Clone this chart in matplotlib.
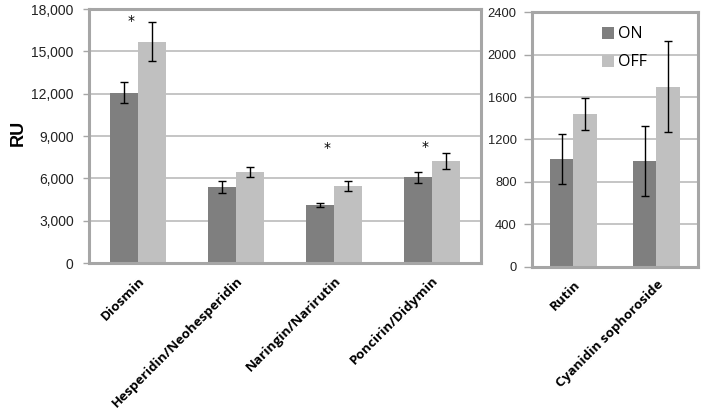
import matplotlib
matplotlib.use("Agg")
import matplotlib.pyplot as plt
import numpy as np

# Data
left_cats = ["Diosmin", "Hesperidin/Neohesperidin", "Naringin/Narirutin", "Poncirin/Didymin"]
left_on = [12070, 5390, 4090, 6070]
left_on_err = [760, 440, 150, 390]
left_off = [15690, 6450, 5460, 7260]
left_off_err = [1400, 350, 330, 570]
left_stars = [True, False, True, True]
left_star_y = [17150, None, 8150, 8220]
left_ticks = [0, 3000, 6000, 9000, 12000, 15000, 18000]

right_cats = ["Rutin", "Cyanidin sophoroside"]
right_on = [1015, 996]
right_on_err = [233, 330]
right_off = [1438, 1698]
right_off_err = [150, 432]
right_ticks = [0, 400, 800, 1200, 1600, 2000, 2400]

series_names = ["ON", "OFF"]
c_on = "#7f7f7f"
c_off = "#c0c0c0"
frame_c = "#a6a6a6"
grid_c = "#c0c0c0"

fig = plt.figure(figsize=(7.02, 4.17), dpi=100)
ax1 = fig.add_axes([0.1268, 0.3693, 0.5584, 0.609])
ax2 = fig.add_axes([0.7578, 0.3605, 0.2365, 0.61])

bw = 0.285

def style(ax, ticks, fmt, fs, tl, pad):
    ax.set_ylim(ticks[0], ticks[-1])
    ax.set_yticks(ticks)
    ax.set_yticklabels([fmt(t) for t in ticks], fontsize=fs, family="Liberation Sans", color="#222222")
    ax.yaxis.grid(True, color=grid_c, linewidth=1.3)
    ax.set_axisbelow(True)
    for s in ax.spines.values():
        s.set_color(frame_c)
        s.set_linewidth(2.2)
    ax.tick_params(axis="y", length=tl, width=1, color=frame_c, pad=pad)
    ax.tick_params(axis="x", length=0, pad=8)

def draw(ax, cats, on, on_err, off, off_err):
    x = np.arange(len(cats))
    ax.bar(x - bw / 2, on, bw, color=c_on, label=series_names[0], zorder=2)
    ax.bar(x + bw / 2, off, bw, color=c_off, label=series_names[1], zorder=2)
    ax.errorbar(x - bw / 2, on, yerr=on_err, fmt="none", ecolor="black", elinewidth=1, capsize=3, capthick=1, zorder=3)
    ax.errorbar(x + bw / 2, off, yerr=off_err, fmt="none", ecolor="black", elinewidth=1, capsize=3, capthick=1, zorder=3)
    ax.set_xlim(-0.5, len(cats) - 0.5)
    ax.set_xticks(x)
    ax.set_xticklabels(cats, rotation=45, ha="right", rotation_mode="anchor",
                       fontsize=9.7, fontweight="bold", family="Open Sans")
    return x

style(ax1, left_ticks, lambda t: f"{t:,}", 10, 4, 7)
x1 = draw(ax1, left_cats, left_on, left_on_err, left_off, left_off_err)
for i, s in enumerate(left_stars):
    if s:
        ax1.text(x1[i] - 0.07, left_star_y[i], "*", ha="center", va="center", fontsize=10, family="DejaVu Sans")

style(ax2, right_ticks, lambda t: f"{t}", 9.3, 6, 5)
draw(ax2, right_cats, right_on, right_on_err, right_off, right_off_err)

leg = ax2.legend(loc="upper left", bbox_to_anchor=(0.42, 0.945), frameon=False, borderpad=0,
                 prop={"family": "Open Sans", "size": 11.5}, handlelength=0.75, handleheight=0.75,
                 handletextpad=0.3, labelspacing=0.75, borderaxespad=0)

fig.text(0.026, 0.681, "RU", rotation=90, ha="center", va="center", fontsize=13,
         fontweight="bold", family="Liberation Sans")

fig.savefig("out.png", dpi=100)
